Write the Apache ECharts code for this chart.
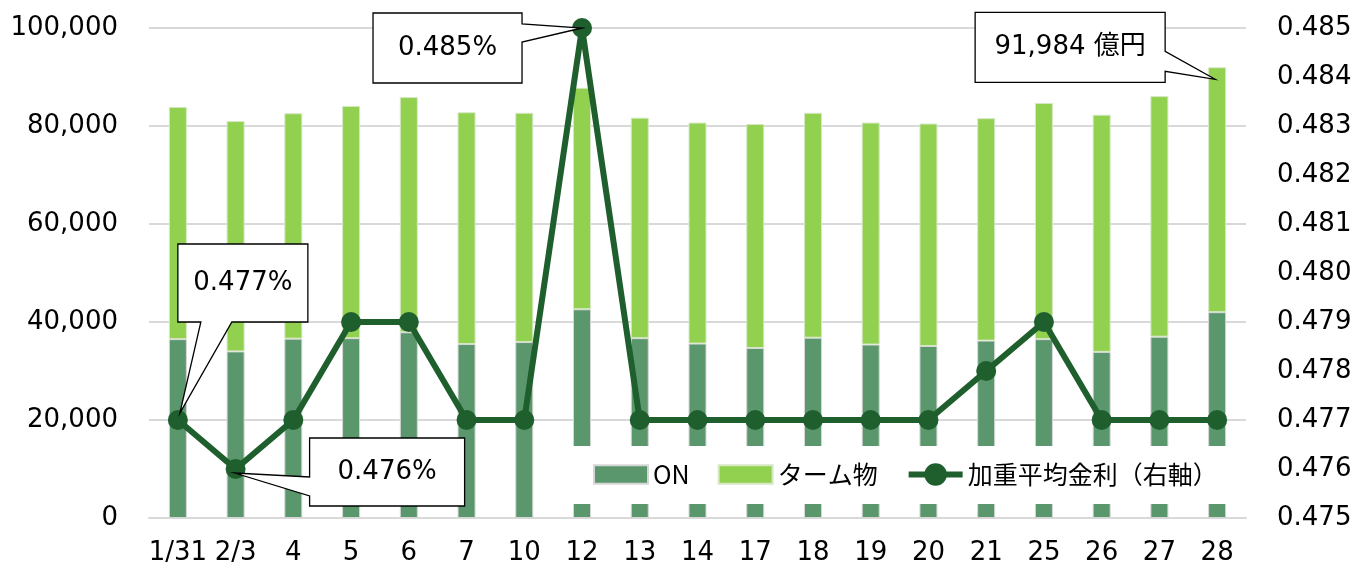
<!DOCTYPE html>
<html><head><meta charset="utf-8">
<script src="https://cdn.jsdelivr.net/npm/echarts@6/dist/echarts.min.js"></script>
<style>html,body{margin:0;padding:0;background:#fff}#c{width:1370px;height:569px}</style>
</head><body><div id="c"></div>
<script>
const categories = ['1/31','2/3','4','5','6','7','10','12','13','14','17','18','19','20','21','25','26','27','28'];
const onVals   = [36500,34000,36600,36700,37900,35500,35900,42600,36700,35600,34700,36800,35400,35100,36200,36500,33900,37000,42000];
const termVals = [47400,47000,46000,47400,48000,47300,46800,45200,45000,45100,45700,45900,45300,45400,45400,48200,48400,49100,49984];
const rates    = [0.477,0.476,0.477,0.479,0.479,0.477,0.477,0.485,0.477,0.477,0.477,0.477,0.477,0.477,0.478,0.479,0.477,0.477,0.477];
const leftTicks = {min:0, max:100000, interval:20000};
const rightTicks = {min:0.475, max:0.485, interval:0.001};
const seriesNames = ['ON','ターム物','加重平均金利（右軸）'];
const callouts = [
  {kind:'rate', idx:0,  text:'0.477%'},
  {kind:'rate', idx:1,  text:'0.476%'},
  {kind:'rate', idx:7,  text:'0.485%'},
  {kind:'total', idx:18, text:'91,984 億円'}
];
// callout geometry (offsets relative to anchor), styling only
const calloutGeom = [
  {x0:0, x1:130, y0:-176, y1:-98, side:'bottom', wa:23, wb:54, tip:[2,-7]},
  {x0:74, x1:229, y0:-31, y1:37, side:'left', wa:8, wb:27, tip:[-1,4]},
  {x0:-209, x1:-60, y0:-15, y1:55, side:'right', wa:-4, wb:14, tip:[0,0]},
  {x0:-242, x1:-52, y0:-55, y1:15, side:'right', wa:-16, wb:4, tip:[-2,12]}
];

const FONT = '"DejaVu Sans", Verdana, "Noto Sans CJK JP", sans-serif';
const FS = 26;
const RECT_ICON = 'path://M0,0L52,0L52,18L0,18Z';
const chart = echarts.init(document.getElementById('c'), null, {renderer:'canvas'});
const fmtComma = v => v.toLocaleString('en-US');
chart.setOption({
  animation:false,
  backgroundColor:'#fff',
  textStyle:{fontFamily:FONT},
  grid:{left:149, right:124, top:28, bottom:51},
  legend:{
    left:568, top:446, padding:[16,14,17,25], backgroundColor:'#fff',
    itemWidth:54, itemHeight:28, itemGap:28, symbolKeepAspect:true,
    textStyle:{fontFamily:'"Noto Sans CJK JP", sans-serif', fontSize:25, color:'#000'},
    data:[
      {name:seriesNames[0], icon:RECT_ICON},
      {name:seriesNames[1], icon:RECT_ICON},
      {name:seriesNames[2], itemStyle:{color:'#1f5f2e'}, lineStyle:{width:6, color:'#1f5f2e'}}
    ]
  },
  xAxis:{type:'category', data:categories,
    axisLine:{show:true, lineStyle:{color:'#d9d9d9', width:2}}, axisTick:{show:false},
    axisLabel:{interval:0, hideOverlap:false, margin:22, fontSize:FS, color:'#000', fontFamily:FONT}},
  yAxis:[
    {type:'value', min:leftTicks.min, max:leftTicks.max, interval:leftTicks.interval,
     axisLine:{show:false}, axisTick:{show:false},
     splitLine:{lineStyle:{color:'#d9d9d9', width:2}},
     axisLabel:{margin:31, fontSize:FS, color:'#000', fontFamily:FONT, formatter:fmtComma}},
    {type:'value', min:rightTicks.min, max:rightTicks.max, interval:rightTicks.interval,
     axisLine:{show:false}, axisTick:{show:false}, splitLine:{show:false},
     axisLabel:{margin:31, fontSize:FS, color:'#000', fontFamily:FONT, formatter:v=>v.toFixed(3)}}
  ],
  series:[
    {name:seriesNames[0], type:'bar', stack:'a', data:onVals, barWidth:18,
     itemStyle:{color:'#5a976c', borderColor:'#d6d6d6', borderWidth:1}},
    {name:seriesNames[1], type:'bar', stack:'a', data:termVals, barWidth:18,
     itemStyle:{color:'#92d050', borderColor:'#d6e8c4', borderWidth:1}},
    {name:seriesNames[2], type:'line', yAxisIndex:1, data:rates, z:5,
     symbol:'circle', symbolSize:20, lineStyle:{color:'#1f5f2e', width:6},
     itemStyle:{color:'#1f5f2e'}}
  ]
});

function drawCallouts(){
  const els = [];
  callouts.forEach((c,i)=>{
    let p;
    if(c.kind==='rate') p = chart.convertToPixel({seriesIndex:2}, [c.idx, rates[c.idx]]);
    else p = chart.convertToPixel({seriesIndex:0}, [c.idx, onVals[c.idx]+termVals[c.idx]]);
    const g = calloutGeom[i];
    const X0=p[0]+g.x0, X1=p[0]+g.x1, Y0=p[1]+g.y0, Y1=p[1]+g.y1;
    const T=[p[0]+g.tip[0], p[1]+g.tip[1]];
    let pts;
    if(g.side==='right') pts=[[X0,Y0],[X1,Y0],[X1,p[1]+g.wa],T,[X1,p[1]+g.wb],[X1,Y1],[X0,Y1]];
    else if(g.side==='left') pts=[[X0,Y0],[X1,Y0],[X1,Y1],[X0,Y1],[X0,p[1]+g.wb],T,[X0,p[1]+g.wa]];
    else pts=[[X0,Y0],[X1,Y0],[X1,Y1],[p[0]+g.wb,Y1],T,[p[0]+g.wa,Y1],[X0,Y1]];
    els.push({type:'polygon', z:100, shape:{points:pts}, style:{fill:'#fff', stroke:'#000', lineWidth:1.3}});
    els.push({type:'text', z:101, x:(X0+X1)/2, y:(Y0+Y1)/2,
      style:{text:c.text, fill:'#000', font:FS+'px '+FONT, align:'center', verticalAlign:'middle'}});
  });
  chart.setOption({graphic:{elements:els}});
}
drawCallouts();
</script></body></html>
